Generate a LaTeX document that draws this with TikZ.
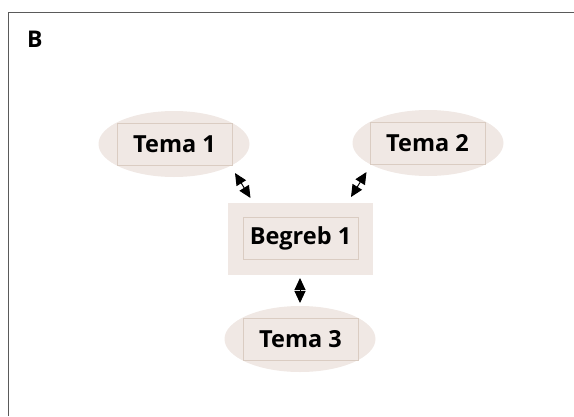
\documentclass[tikz,border=0pt]{standalone}
\usepackage{fontspec}
\setmainfont{Open Sans}
\usetikzlibrary{shapes.geometric,arrows.meta}
\definecolor{fillbg}{RGB}{240,232,228}
\definecolor{innerline}{RGB}{218,204,194}
\definecolor{frameline}{RGB}{90,90,90}
\tikzset{
  oval/.style={ellipse,fill=fillbg,draw=none,minimum width=151pt,minimum height=66pt,inner sep=0pt},
  boxouter/.style={rectangle,fill=fillbg,draw=none,minimum width=145pt,minimum height=72pt,inner sep=0pt},
  innerbox/.style={rectangle,fill=fillbg,draw=innerline,line width=0.8pt,minimum width=115pt,minimum height=42pt,inner sep=0pt,font=\fontsize{23.5}{27}\selectfont\bfseries},
  dbl/.style={{Triangle[length=12pt,width=11pt]}-{Triangle[length=12pt,width=11pt]},line width=1pt,black}
}
\begin{document}
\begin{tikzpicture}[x=1pt,y=-1pt]
\useasboundingbox (0,0) rectangle (574,416);
\draw[frameline,line width=1.5pt] (8.5,416) -- (8.5,12.5) -- (574,12.5);
\node[anchor=base west,inner sep=0pt,font=\fontsize{23}{27}\selectfont\bfseries] (lbl) at (27,47) {B};
\node[oval] (e1) at (174,144) {};
\node[innerbox] (t1) at (174.5,144) {Tema 1};
\node[oval] (e2) at (428,143) {};
\node[innerbox] (t2) at (427.5,143) {Tema 2};
\node[boxouter] (b0) at (300.5,239) {};
\node[innerbox] (b1) at (300.5,238.5) {Begreb 1};
\node[oval] (e3) at (300,339) {};
\node[innerbox] (t3) at (300.5,339.5) {Tema 3};
\coordinate (a1s) at (235,173);
\coordinate (a1e) at (250.5,198);
\coordinate (a2s) at (366.5,172);
\coordinate (a2e) at (351,197);
\coordinate (a3s) at (300,278);
\coordinate (a3e) at (300,303);
\draw[dbl] (a1s) -- (a1e);
\draw[dbl] (a2s) -- (a2e);
\draw[dbl] (a3s) -- (a3e);
\end{tikzpicture}
\end{document}
